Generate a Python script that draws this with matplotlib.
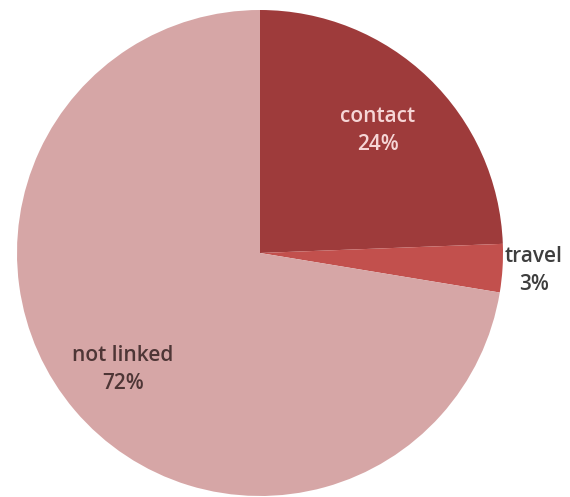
import numpy as np
import matplotlib.pyplot as plt

# data
labels = ["contact", "travel", "not linked"]
values = [24.4, 3.2, 72.4]
pct_text = ["24%", "3%", "72%"]

colors = ["#9e3b3b", "#c2504d", "#d6a6a6"]
text_colors = ["#f6d6d6", "#3e3e3e", "#4e3636"]
label_dist = [0.70, 1.13, 0.74]

fig = plt.figure(figsize=(5.70, 4.97), dpi=100)
ax = fig.add_axes([17 / 570, 1 / 497, 486 / 570, 486 / 497])

wedges, _ = ax.pie(values, colors=colors, startangle=90, counterclock=False,
                   radius=1, wedgeprops=dict(linewidth=0))
ax.set_xlim(-1, 1)
ax.set_ylim(-1, 1)
ax.set_aspect("equal")
ax.axis("off")

for w, lab, pct, tc, d in zip(wedges, labels, pct_text, text_colors, label_dist):
    ang = np.deg2rad((w.theta1 + w.theta2) / 2)
    x, y = d * np.cos(ang), d * np.sin(ang)
    ax.text(x, y, lab + "\n" + pct, ha="center", va="center", color=tc,
            fontsize=15, family="Open Sans", weight="semibold",
            linespacing=1.45, clip_on=False)

fig.savefig("out.png", dpi=100)
